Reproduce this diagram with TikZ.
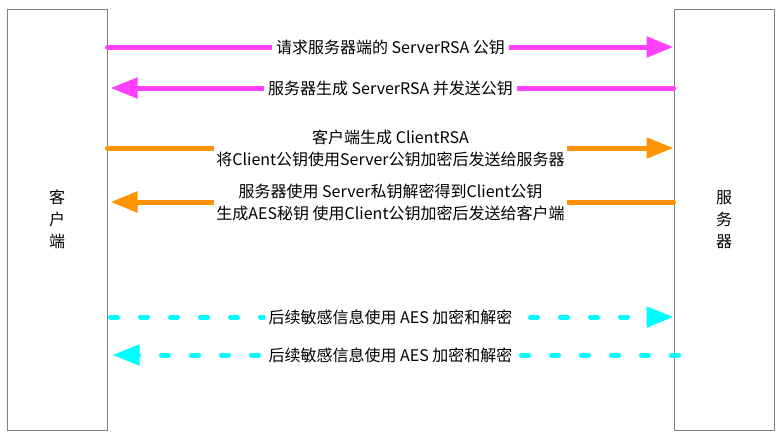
\documentclass[tikz,border=0pt]{standalone}
\usepackage{fontspec}
\setmainfont{Noto Sans CJK SC}
\usetikzlibrary{arrows.meta,positioning}
\definecolor{MsgPink}{HTML}{FF40FF}
\definecolor{MsgOrange}{HTML}{FF9300}
\definecolor{MsgCyan}{HTML}{00FDFF}
\definecolor{BoxGray}{HTML}{808080}

\begin{document}
\begin{tikzpicture}[x=1pt,y=-1pt,every node/.style={font=\fontsize{16}{22}\selectfont},
    party/.style={draw=BoxGray,line width=1pt,minimum width=100pt,minimum height=421pt,inner sep=0pt,align=center},
    msg/.style={line width=5pt,line cap=round,-{Triangle[length=27pt,width=20pt]}},
    dots/.style={msg,dash pattern=on 7pt off 23pt},
    lbl/.style={fill=white,inner sep=4pt,align=center,midway}]
      \useasboundingbox (0,0) rectangle (782,440);

      \node[party] (client) at (57,219.5) {客\\户\\端};
      \node[party] (server) at (724,219.5) {服\\务\\器};

      \coordinate (m1) at (0,47);
      \coordinate (m2) at (0,88);
      \coordinate (m3) at (0,148);
      \coordinate (m4) at (0,202);
      \coordinate (m5) at (0,317);
      \coordinate (m6) at (0,355);

      \draw[msg,MsgPink] (client.east |- m1) -- (server.west |- m1)
        node[lbl,text=black] {请求服务器端的 ServerRSA 公钥};
      \draw[msg,MsgPink,shorten >=3pt] (server.west |- m2) -- (client.east |- m2)
        node[lbl,text=black] {服务器生成 ServerRSA 并发送公钥};

      \draw[msg,MsgOrange] (client.east |- m3) -- (server.west |- m3)
        node[lbl,text=black,inner sep=2pt] {客户端生成 ClientRSA\\将Client公钥使用Server公钥加密后发送给服务器};
      \draw[msg,MsgOrange,shorten >=3pt] (server.west |- m4) -- (client.east |- m4)
        node[lbl,text=black,inner sep=2pt] {服务器使用 Server私钥解密得到Client公钥\\生成AES秘钥 使用Client公钥加密后发送给客户端};

      \draw[dots,MsgCyan,shorten <=3pt] (client.east |- m5) -- (server.west |- m5)
        node[lbl,text=black] {后续敏感信息使用 AES 加密和解密};
      \draw[dots,MsgCyan,shorten >=5pt,shorten <=-5pt] (server.west |- m6) -- (client.east |- m6)
        node[lbl,text=black] {后续敏感信息使用 AES 加密和解密};
    \end{tikzpicture}
\end{document}
